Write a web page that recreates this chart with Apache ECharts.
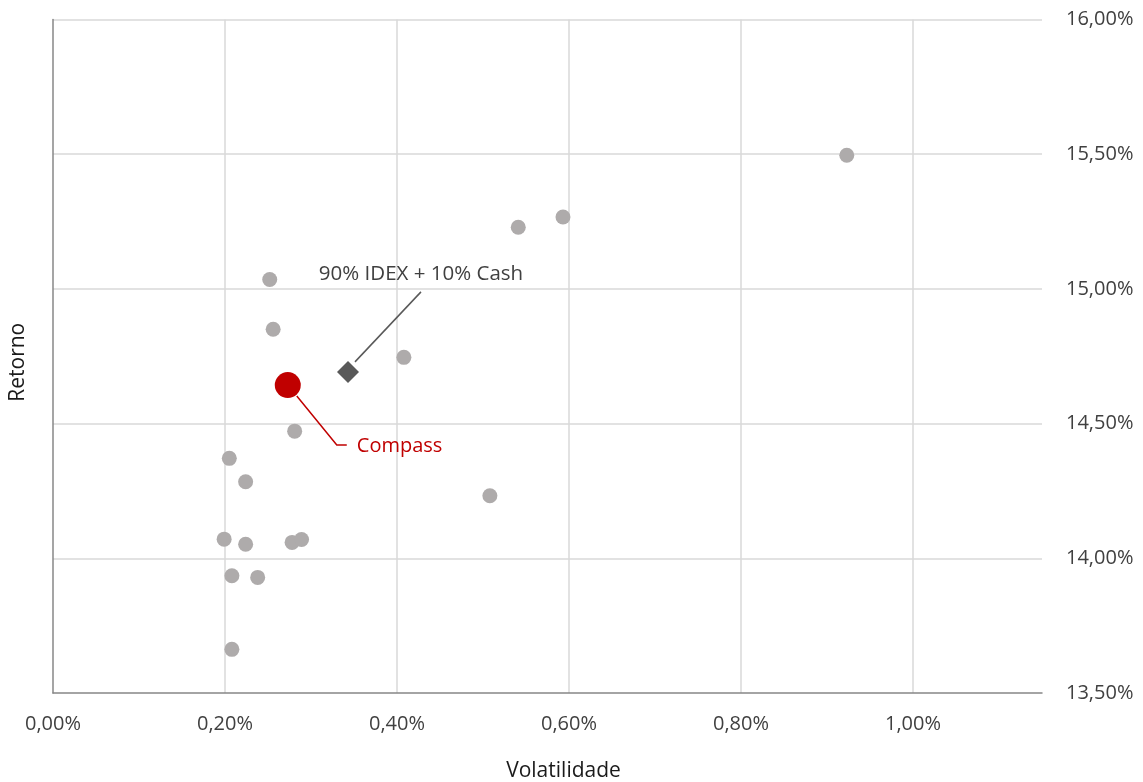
<!DOCTYPE html>
<html>
<head>
<meta charset="utf-8">
<script src="https://cdn.jsdelivr.net/npm/echarts@6/dist/echarts.min.js"></script>
<style>
html,body{margin:0;padding:0;background:#fff;}
#c{width:1143px;height:782px;}
</style>
</head>
<body>
<div id="c"></div>
<script>
// Volatilidade (%) and Retorno (%) of peer funds
const peerVol = [0.923, 0.593, 0.541, 0.252, 0.256, 0.408, 0.281, 0.205, 0.224, 0.508, 0.199, 0.224, 0.278, 0.289, 0.208, 0.238, 0.208];
const peerRet = [15.496, 15.267, 15.229, 15.035, 14.850, 14.746, 14.472, 14.371, 14.284, 14.232, 14.071, 14.052, 14.059, 14.070, 13.935, 13.929, 13.662];
// Benchmark portfolio
const benchName = '90% IDEX + 10% Cash';
const benchVol = [0.343];
const benchRet = [14.692];
// Compass
const compassName = 'Compass';
const compassVol = [0.273];
const compassRet = [14.643];
// Axes
const xMin = 0, xMax = 1.15, xStep = 0.2;
const yMin = 13.5, yMax = 16, yStep = 0.5;
const xTitle = 'Volatilidade';
const yTitle = 'Retorno';

const FONT = 'Open Sans';
const fmt = v => v.toFixed(2).replace('.', ',') + '%';
const pairs = (xs, ys) => xs.map((x, i) => [x, ys[i]]);

const chart = echarts.init(document.getElementById('c'), null, {renderer: 'canvas'});

const option = {
  animation: false,
  backgroundColor: '#ffffff',
  grid: {left: 53, right: 101, top: 19.5, bottom: 89, containLabel: false, outerBoundsMode: 'none'},
  xAxis: {
    type: 'value', min: xMin, max: xMax, interval: xStep,
    axisLine: {show: true, lineStyle: {color: '#878787', width: 1.5}},
    axisTick: {show: false},
    axisLabel: {formatter: fmt, color: '#404040', fontFamily: FONT, fontSize: 20, margin: 21, showMaxLabel: false},
    splitLine: {show: true, showMinLine: false, showMaxLine: false, lineStyle: {color: '#D9D9D9', width: 1.5}}
  },
  yAxis: [
    {
      type: 'value', min: yMin, max: yMax, interval: yStep, position: 'left',
      axisLine: {show: true, onZero: false, lineStyle: {color: '#878787', width: 1.5}},
      axisTick: {show: false},
      axisLabel: {show: false},
      splitLine: {show: true, showMinLine: false, lineStyle: {color: '#D9D9D9', width: 1.5}}
    },
    {
      type: 'value', min: yMin, max: yMax, interval: yStep, position: 'right',
      axisLine: {show: false},
      axisTick: {show: false},
      axisLabel: {formatter: fmt, color: '#404040', fontFamily: FONT, fontSize: 20, margin: 24},
      splitLine: {show: false}
    }
  ],
  series: [
    {
      name: 'Peers', type: 'scatter', yAxisIndex: 0,
      symbol: 'circle', symbolSize: 15,
      itemStyle: {color: '#AEABAB', opacity: 1},
      emphasis: {disabled: true},
      data: pairs(peerVol, peerRet), z: 2
    },
    {
      name: benchName, type: 'scatter', yAxisIndex: 0,
      symbol: 'diamond', symbolSize: 22,
      itemStyle: {color: '#595959', opacity: 1},
      emphasis: {disabled: true},
      data: pairs(benchVol, benchRet), z: 3
    },
    {
      name: compassName, type: 'scatter', yAxisIndex: 0,
      symbol: 'circle', symbolSize: 26,
      itemStyle: {color: '#C00000', opacity: 1},
      emphasis: {disabled: true},
      data: pairs(compassVol, compassRet), z: 4
    }
  ]
};
chart.setOption(option);

function addAnnotations() {
  const c = chart.convertToPixel({xAxisIndex: 0, yAxisIndex: 0}, [compassVol[0], compassRet[0]]);
  const d = chart.convertToPixel({xAxisIndex: 0, yAxisIndex: 0}, [benchVol[0], benchRet[0]]);
  const grid = chart.getModel().getComponent('grid', 0).coordinateSystem.getRect();
  chart.setOption({
    graphic: [
      {
        id: 'compassLine', type: 'polyline', z: 10,
        shape: {points: [[c[0] + 9, c[1] + 11], [c[0] + 49, c[1] + 60], [c[0] + 59, c[1] + 60]]},
        style: {stroke: '#C00000', lineWidth: 1.5, fill: null}
      },
      {
        id: 'compassText', type: 'text', z: 10,
        x: c[0] + 69, y: c[1] + 61,
        style: {text: compassName, fill: '#C00000', font: '20px "' + FONT + '"', align: 'left', verticalAlign: 'middle'}
      },
      {
        id: 'benchLine', type: 'polyline', z: 10,
        shape: {points: [[d[0] + 7, d[1] - 10], [d[0] + 73, d[1] - 80]]},
        style: {stroke: '#595959', lineWidth: 1.5, fill: null}
      },
      {
        id: 'benchText', type: 'text', z: 10,
        x: d[0] + 73, y: d[1] - 98,
        style: {text: benchName, fill: '#404040', font: '20.5px "' + FONT + '"', align: 'center', verticalAlign: 'middle'}
      },
      {
        id: 'xTitle', type: 'text',
        x: grid.x + grid.width / 2 + 16, y: 771,
        style: {text: xTitle, fill: '#1a1a1a', font: '21px "' + FONT + '"', align: 'center', verticalAlign: 'middle'}
      },
      {
        id: 'yTitle', type: 'text',
        x: 18, y: grid.y + grid.height / 2 + 6, rotation: Math.PI / 2,
        style: {text: yTitle, fill: '#1a1a1a', font: '21px "' + FONT + '"', align: 'center', verticalAlign: 'middle'}
      }
    ]
  });
}
addAnnotations();
</script>
</body>
</html>
